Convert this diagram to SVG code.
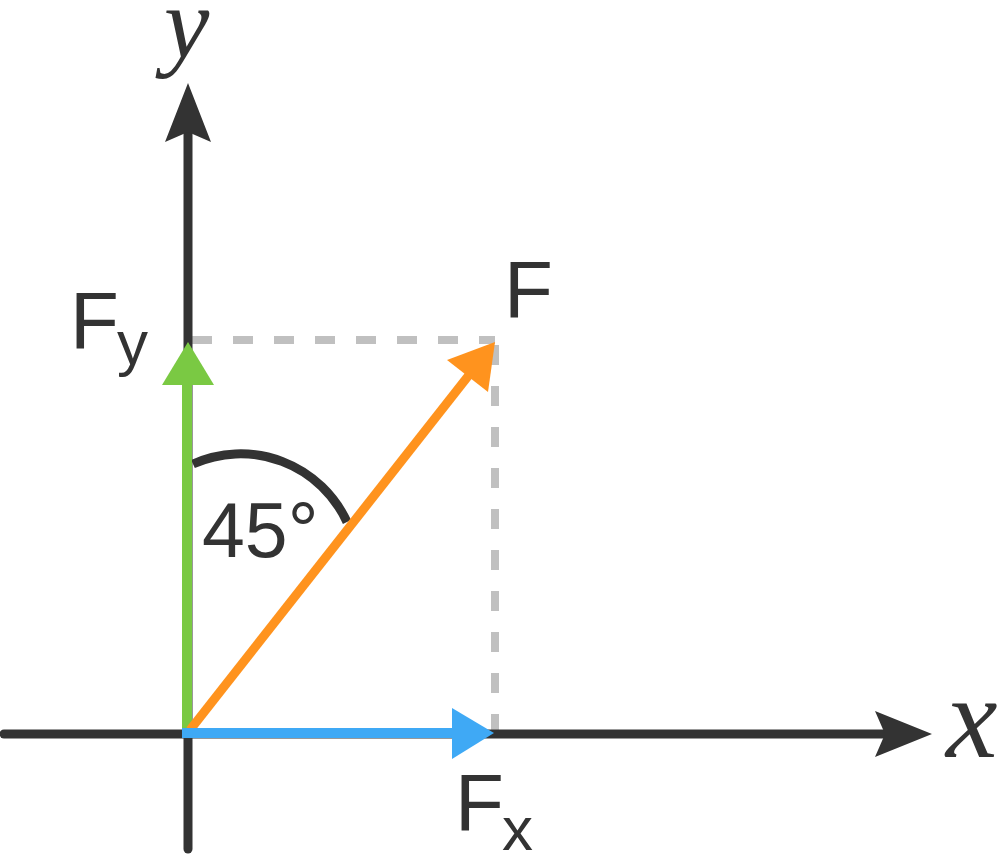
<svg xmlns="http://www.w3.org/2000/svg" width="1001" height="866" viewBox="0 0 1001 866">
<style>
.axis{stroke:#333333;stroke-width:9;fill:none;stroke-linecap:round}
.dash{stroke:#c0c0c0;stroke-width:8;fill:none;stroke-dasharray:20 21}
.lbl{font-family:"Liberation Sans",Arial,sans-serif;fill:#333333}
.math{font-family:"Liberation Serif","Times New Roman",serif;font-style:italic;fill:#333333}
</style>
<rect width="1001" height="866" fill="#ffffff"/>
<g id="connectors">
  <g id="dashed-guides">
    <line class="dash" x1="192" y1="340" x2="495" y2="340"/>
    <line class="dash" x1="495" y1="345" x2="495" y2="735"/>
  </g>
  <g id="x-axis">
    <line class="axis" x1="4" y1="734" x2="890" y2="734"/>
    <path d="M932,734 L875,711 L885,734 L875,757 Z" fill="#333333"/>
  </g>
  <g id="y-axis">
    <line class="axis" x1="188" y1="849" x2="188" y2="125"/>
    <path d="M188,83 L211,142 L188,132 L165,142 Z" fill="#333333"/>
  </g>
  <g id="angle-arc">
    <path d="M193,464 A117,117 0 0 1 347,522" stroke="#333333" stroke-width="9" fill="none"/>
  </g>
  <g id="Fy-vector">
    <line x1="187" y1="729" x2="187" y2="380" stroke="#7AC943" stroke-width="10"/>
    <path d="M188,342 L214,385 L162,385 Z" fill="#7AC943"/>
  </g>
  <g id="F-vector">
    <line x1="190" y1="730" x2="469" y2="375" stroke="#FF931E" stroke-width="9"/>
    <path d="M495,342 L488,392 L447,360 Z" fill="#FF931E"/>
  </g>
  <g id="Fx-vector">
    <line x1="182" y1="733" x2="458" y2="733" stroke="#3FA9F5" stroke-width="10"/>
    <path d="M494,733 L452,708 L452,759 Z" fill="#3FA9F5"/>
  </g>
</g>
<g id="label-x"><text class="math" x="946" y="757" font-size="116">x</text></g>
<g id="label-y"><text class="math" x="164" y="57" font-size="102">y</text></g>
<g id="label-F"><text class="lbl" x="504" y="317" font-size="80">F</text></g>
<g id="label-Fy"><text class="lbl" x="70" y="348" font-size="80">F</text><text class="lbl" x="117" y="364" font-size="62">y</text></g>
<g id="label-Fx"><text class="lbl" x="455" y="830" font-size="80">F</text><text class="lbl" x="502" y="850" font-size="62">x</text></g>
<g id="label-angle"><text class="lbl" x="202" y="557" font-size="77">45°</text></g>
</svg>
